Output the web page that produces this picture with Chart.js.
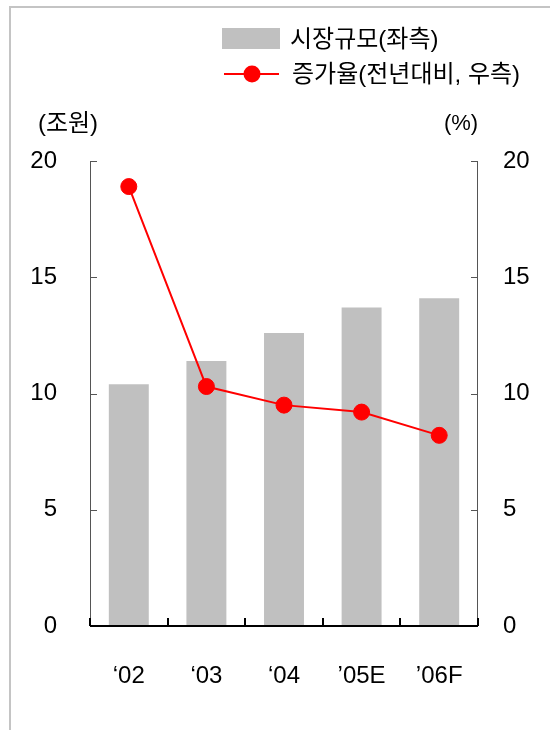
<!DOCTYPE html>
<html>
<head>
<meta charset="utf-8">
<script src="https://cdn.jsdelivr.net/npm/chart.js@4.4.1/dist/chart.umd.min.js"></script>
<style>
  html, body { margin: 0; padding: 0; background: #ffffff; }
  #wrap { width: 550px; height: 730px; }
</style>
</head>
<body>
<div id="wrap"><canvas id="chart" width="550" height="730"></canvas></div>
<script>
// Market size (left axis, 조원) and year-on-year growth (right axis, %)
const categories = ["\u201802", "\u201803", "\u201804", "\u201905E", "\u201906F"];
const marketSize = [10.4, 11.4, 12.6, 13.7, 14.1];
const growthRate = [18.9, 10.3, 9.5, 9.2, 8.2];
const leftTicks = [0, 5, 10, 15, 20];
const rightTicks = [0, 5, 10, 15, 20];
const seriesNames = ["시장규모(좌측)", "증가율(전년대비, 우측)"];
const leftUnit = "(조원)";
const rightUnit = "(%)";

const BAR_COLOR = "#c0c0c0";
const LINE_COLOR = "#ff0000";
const LATIN = "'Liberation Sans', Arial, 'Noto Sans CJK KR', sans-serif";
const FONT_PX = 24;
const LEGEND_PX = 24;

// Frame, axis lines, inward tick marks, legend and unit captions
const decorations = {
  id: "decorations",
  afterDatasetsDraw(chart) {
    const ctx = chart.ctx;
    const area = chart.chartArea;
    const x = chart.scales.x, yL = chart.scales.y, yR = chart.scales.y1;
    ctx.save();

    // outer frame
    ctx.strokeStyle = "#c4c4c4";
    ctx.lineWidth = 2;
    ctx.beginPath();
    ctx.moveTo(10, 730);
    ctx.lineTo(10, 7);
    ctx.lineTo(550, 7);
    ctx.stroke();

    // vertical axes
    ctx.lineWidth = 1;
    ctx.strokeStyle = "#555555";
    ctx.beginPath();
    ctx.moveTo(Math.round(area.left) + 0.5, area.top);
    ctx.lineTo(Math.round(area.left) + 0.5, area.bottom);
    ctx.moveTo(Math.round(area.right) - 0.5, area.top);
    ctx.lineTo(Math.round(area.right) - 0.5, area.bottom);
    for (const t of yL.ticks) {
      const py = Math.round(yL.getPixelForValue(t.value)) + 0.5;
      ctx.moveTo(area.left, py);
      ctx.lineTo(area.left + 7, py);
    }
    for (const t of yR.ticks) {
      const py = Math.round(yR.getPixelForValue(t.value)) + 0.5;
      ctx.moveTo(area.right - 7, py);
      ctx.lineTo(area.right, py);
    }
    ctx.stroke();

    // category axis with tick marks between categories
    ctx.strokeStyle = "#000000";
    ctx.lineWidth = 2;
    ctx.beginPath();
    ctx.moveTo(area.left, area.bottom);
    ctx.lineTo(area.right, area.bottom);
    ctx.stroke();
    ctx.beginPath();
    for (let i = 0; i <= categories.length; i++) {
      const px = Math.round(x.getPixelForValue(i - 0.5));
      ctx.moveTo(px, area.bottom);
      ctx.lineTo(px, area.bottom - 8);
    }
    ctx.stroke();

    // legend
    ctx.fillStyle = BAR_COLOR;
    ctx.fillRect(222, 28, 58, 21);
    ctx.strokeStyle = LINE_COLOR;
    ctx.lineWidth = 2;
    ctx.beginPath();
    ctx.moveTo(224, 74);
    ctx.lineTo(279, 74);
    ctx.stroke();
    ctx.fillStyle = LINE_COLOR;
    ctx.beginPath();
    ctx.arc(252, 74, 8.5, 0, Math.PI * 2);
    ctx.fill();

    ctx.fillStyle = "#000000";
    ctx.textBaseline = "middle";
    ctx.textAlign = "left";
    ctx.font = LEGEND_PX + "px " + LATIN;
    ctx.fillText(seriesNames[0], 290, 40);
    ctx.fillText(seriesNames[1], 292, 75);

    // unit captions above the axes
    ctx.textAlign = "center";
    ctx.font = "24px " + LATIN;
    ctx.fillText(leftUnit, 68, 124);
    ctx.font = "22px " + LATIN;
    ctx.fillText(rightUnit, 461, 124);
    ctx.restore();
  }
};

const tickFont = { family: LATIN, size: FONT_PX };

new Chart(document.getElementById("chart"), {
  data: {
    labels: categories,
    datasets: [
      {
        type: "line",
        label: seriesNames[1],
        data: growthRate,
        yAxisID: "y1",
        borderColor: LINE_COLOR,
        backgroundColor: LINE_COLOR,
        borderWidth: 2,
        pointRadius: 8,
        pointBorderWidth: 1,
        pointBorderColor: LINE_COLOR,
        pointBackgroundColor: LINE_COLOR,
        tension: 0,
        order: 0
      },
      {
        type: "bar",
        label: seriesNames[0],
        data: marketSize,
        yAxisID: "y",
        backgroundColor: BAR_COLOR,
        borderWidth: 0,
        barPercentage: 0.515,
        categoryPercentage: 1.0,
        order: 1
      }
    ]
  },
  options: {
    responsive: false,
    animation: false,
    devicePixelRatio: 1,
    layout: { padding: { top: 161, left: 0, right: 0, bottom: 0 } },
    plugins: {
      legend: { display: false },
      tooltip: { enabled: false },
      title: { display: false }
    },
    scales: {
      x: {
        type: "category",
        grid: { display: false },
        border: { display: false },
        ticks: { font: tickFont, color: "#000000", padding: 28, maxRotation: 0, autoSkip: false },
        afterFit(s) { s.height = 104; }
      },
      y: {
        position: "left",
        min: 0,
        max: 20,
        grid: { display: false },
        border: { display: false },
        ticks: { font: tickFont, color: "#000000", padding: 25 },
        afterBuildTicks(s) { s.ticks = leftTicks.map(v => ({ value: v })); },
        afterFit(s) { s.width = 90; }
      },
      y1: {
        position: "right",
        min: 0,
        max: 20,
        grid: { display: false },
        border: { display: false },
        ticks: { font: tickFont, color: "#000000", padding: 17 },
        afterBuildTicks(s) { s.ticks = rightTicks.map(v => ({ value: v })); },
        afterFit(s) { s.width = 72; }
      }
    }
  },
  plugins: [decorations]
});
</script>
</body>
</html>
